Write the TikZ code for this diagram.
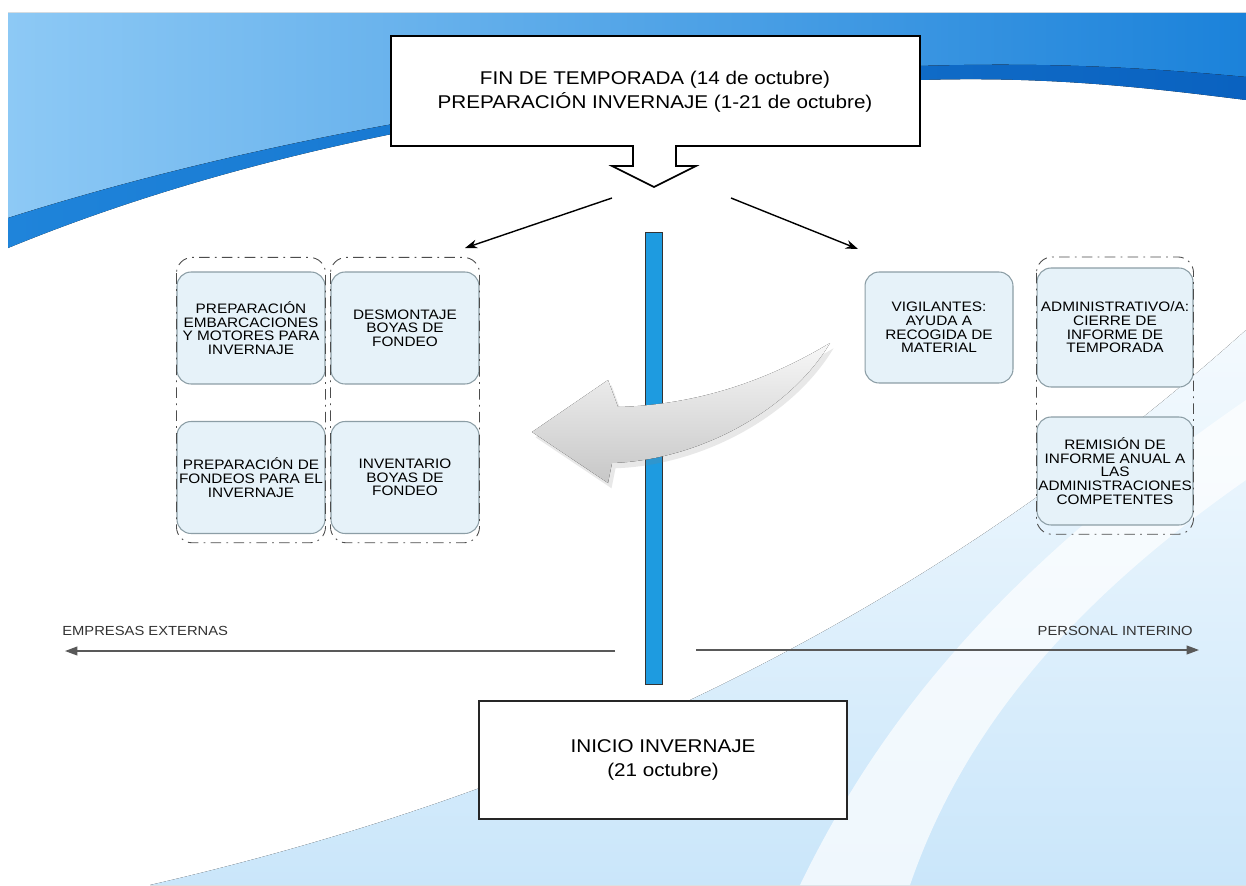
\documentclass[tikz,border=0pt]{standalone}
\usepackage{fontspec}
\setmainfont{Liberation Sans}[FakeStretch=1.12]
\usetikzlibrary{arrows.meta,shadows,positioning}
\definecolor{bandL}{HTML}{8DC9F5}
\definecolor{bandR}{HTML}{1B82DA}
\definecolor{darkL}{HTML}{1F84DA}
\definecolor{darkR}{HTML}{0A62C0}
\definecolor{bgtop}{HTML}{F4FAFE}
\definecolor{bgbot}{HTML}{CAE6FA}
\definecolor{mybarblue}{HTML}{1E9BE0}
\definecolor{myboxfill}{HTML}{E6F2F9}
\definecolor{myboxline}{HTML}{8C9EA6}
\colorlet{mygray}{black!65}

\begin{document}
\begin{tikzpicture}[x=0.02cm,y=-0.02cm]
\useasboundingbox (0,0) rectangle (1246,885);
\fill[white] (0,0) rectangle (1246,885);
% background
\fill[top color=bgtop, bottom color=bgbot] (150,885) .. controls (520,800) and (900,640) .. (1246,330) -- (1246,885) -- cycle;
\fill[white, opacity=0.7] (800,885) .. controls (880,720) and (1000,570) .. (1246,400) -- (1246,480) .. controls (1060,610) and (960,740) .. (910,885) -- cycle;
\fill[left color=bandL, right color=bandR] (8,13) -- (1246,13) -- (1246,77) .. controls (1150,68) and (1050,62) .. (920,66) .. controls (650,75) and (300,125) .. (8,218) -- cycle;
\fill[left color=darkL, right color=darkR] (8,218) .. controls (300,125) and (650,75) .. (920,66) .. controls (1050,62) and (1150,68) .. (1246,77) -- (1246,100) .. controls (1150,88) and (1050,76) .. (920,80) .. controls (650,80) and (300,128) .. (8,248) -- cycle;

\tikzset{SmallBox/.style ={draw=myboxline, line width=0.6pt, rounded corners=8pt, fill=myboxfill, align=center, inner xsep=0pt, font=\fontsize{7.8}{7.8}\selectfont}}
\tikzset{GroupLine/.style ={draw=black!70, line width=0.5pt, rounded corners=9pt, dash pattern=on 6pt off 3pt on 1pt off 3pt}}
\tikzset{BigText/.style ={align=center, font=\fontsize{10.5}{13.5}\selectfont}}

% top box
\draw[line width=0.9pt, fill=white] (391,36) -- (920,36) -- (920,146) -- (676,146) -- (676,166) -- (696,166) -- (654,187) -- (612,166) -- (633,166) -- (633,146) -- (391,146) -- cycle;
\node[BigText] (fin) at (655,92) {FIN DE TEMPORADA (14 de octubre)\\PREPARACIÓN INVERNAJE (1-21 de octubre)};

\coordinate (startL) at (612,198);
\coordinate (startR) at (731,198);
\coordinate (endL) at (465,248);
\coordinate (endR) at (858,249);
\draw[line width=0.8pt, -{Stealth[length=7pt,width=5pt]}] (startL) -- (endL);
\draw[line width=0.8pt, -{Stealth[length=7pt,width=5pt]}] (startR) -- (endR);

% left boxes
\node[SmallBox, minimum width=2.96cm, minimum height=2.24cm] (prepEmb) at (251,328) {PREPARACIÓN\\EMBARCACIONES\\Y MOTORES PARA\\INVERNAJE};
\node[SmallBox, minimum width=2.96cm, minimum height=2.24cm] (desmontaje) at (405,328) {DESMONTAJE\\BOYAS DE\\FONDEO};
\node[SmallBox, minimum width=2.96cm, minimum height=2.24cm] (prepFond) at (251,477.5) {PREPARACIÓN DE\\FONDEOS PARA EL\\INVERNAJE};
\node[SmallBox, minimum width=2.96cm, minimum height=2.24cm] (inventario) at (405,477.5) {INVENTARIO\\BOYAS DE\\FONDEO};
\draw[GroupLine] ([yshift=8pt]prepEmb.north west) rectangle ([yshift=-5pt]prepFond.south east);
\draw[GroupLine] ([yshift=8pt]desmontaje.north west) rectangle ([yshift=-5pt]inventario.south east);

% right boxes
\node[SmallBox, minimum width=2.96cm, minimum height=2.22cm] (vigilantes) at (939,327.5) {VIGILANTES:\\AYUDA A\\RECOGIDA DE\\MATERIAL};
\node[SmallBox, minimum width=3.12cm, minimum height=2.38cm] (admin) at (1115,327.5) {ADMINISTRATIVO/A:\\CIERRE DE\\INFORME DE\\TEMPORADA};
\node[SmallBox, minimum width=3.12cm, minimum height=2.16cm] (remision) at (1115,471) {REMISIÓN DE\\INFORME ANUAL A\\LAS\\ADMINISTRACIONES\\COMPETENTES};
\draw[GroupLine] ([yshift=6pt]admin.north west) rectangle ([yshift=-5pt]remision.south east);

% blue bar and curved arrow
\node[draw=black!80, line width=0.6pt, fill=mybarblue, minimum width=0.34cm, minimum height=9.06cm, inner sep=0pt] (bar) at (654,458.5) {};
\fill[top color=black!3, bottom color=black!22, drop shadow={shadow xshift=2pt, shadow yshift=-3pt, opacity=0.18}] (830,343) .. controls (760,385) and (690,405) .. (618,407) -- (608,380) -- (532,432) -- (608,483) -- (612,463) .. controls (700,460) and (790,410) .. cycle;

% bottom arrows and labels
\coordinate (extStart) at (615,651);
\coordinate (extEnd) at (65,651);
\coordinate (intStart) at (696,650);
\coordinate (intEnd) at (1199,650);
\draw[mygray, line width=0.8pt, -{Triangle[length=7pt,width=5pt]}] (extStart) -- (extEnd);
\draw[mygray, line width=0.8pt, -{Triangle[length=7pt,width=5pt]}] (intStart) -- (intEnd);
\node[anchor=west, text=black!80, inner sep=0pt, font=\fontsize{7.5}{9}\selectfont] (externas) at (62,631) {EMPRESAS EXTERNAS};
\node[anchor=east, text=black!80, inner sep=0pt, font=\fontsize{7.5}{9}\selectfont] (interino) at (1193,631) {PERSONAL INTERINO};

% bottom box
\node[BigText, draw=black!85, line width=0.9pt, fill=white, minimum width=7.36cm, minimum height=2.36cm] (inicio) at (663,760) {INICIO INVERNAJE\\(21 octubre)};
\end{tikzpicture}
\end{document}
